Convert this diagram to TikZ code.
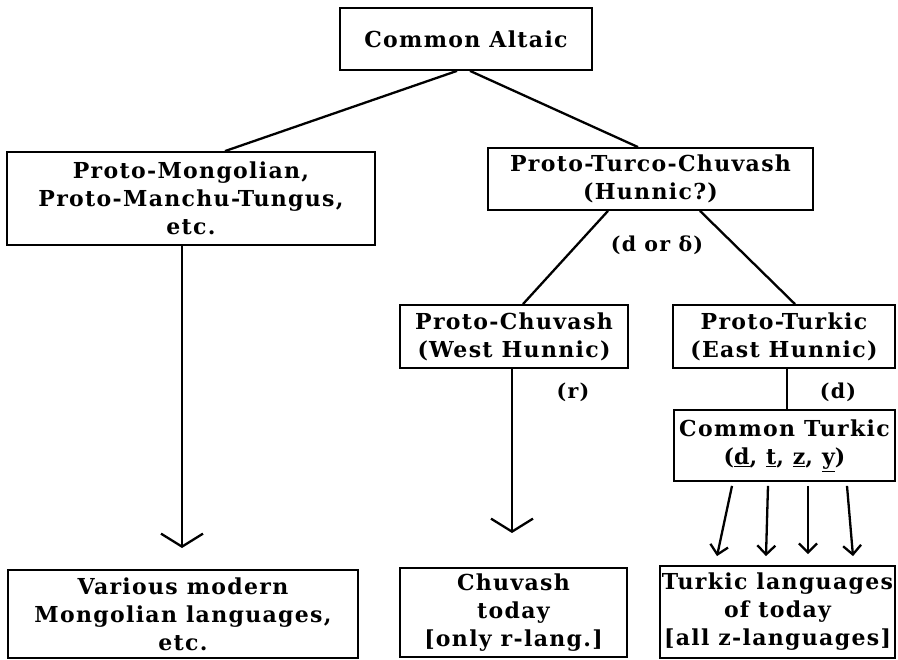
\documentclass[tikz,border=0pt]{standalone}
\usepackage{fontspec}
\newfontfamily\labfont{DejaVu Serif}[LetterSpace=6]
\usetikzlibrary{arrows.meta}
\tikzset{
  lang/.style={draw, line width=1.8pt, inner sep=0pt, align=center,
    font=\labfont\bfseries\fontsize{22}{28}\selectfont},
  conn/.style={line width=2.3pt},
  bigarrow/.style={conn, -{Straight Barb[length=13pt,width=42pt,line width=2.3pt]}},
  smallarrow/.style={conn, -{Straight Barb[length=9pt,width=18pt,line width=2.3pt]}},
  note/.style={inner sep=0pt, font=\labfont\bfseries\fontsize{20.5}{24}\selectfont}
}
\begin{document}
\begin{tikzpicture}[x=1pt,y=-1pt]
\useasboundingbox (0,0) rectangle (898,660);
\node[lang, minimum width=252pt, minimum height=62pt] (altaic) at (466,39) {Common Altaic};
\node[lang, minimum width=368pt, minimum height=93pt] (mong) at (191,198.5) {Proto-Mongolian,\\Proto-Manchu-Tungus,\\etc.};
\node[lang, minimum width=325pt, minimum height=62pt] (ptc) at (650.5,179) {Proto-Turco-Chuvash\\(Hunnic?)};
\node[lang, minimum width=228pt, minimum height=63pt] (pchuv) at (514,336.5) {Proto-Chuvash\\(West Hunnic)};
\node[lang, minimum width=222pt, minimum height=63pt] (pturk) at (784,336.5) {Proto-Turkic\\(East Hunnic)};
\node[lang, minimum width=221pt, minimum height=71pt] (cturk) at (784.5,445.5) {Common Turkic\\(\underline{d}, \underline{t}, \underline{z}, \underline{y})};
\node[lang, minimum width=350pt, minimum height=88pt] (various) at (183,614) {Various modern\\Mongolian languages,\\etc.};
\node[lang, minimum width=227pt, minimum height=89pt] (chuv) at (513.5,612.5) {Chuvash\\today\\{[}only r-lang.{]}};
\node[lang, minimum width=235pt, minimum height=92pt] (turkl) at (777.5,612) {Turkic languages\\of today\\{[}all z-languages{]}};
\node[note] (dor) at (657,245) {(d or δ)};
\node[note] (rlab) at (573,392) {(r)};
\node[note] (dlab) at (838,392) {(d)};
\coordinate (tipm) at (182,548);
\coordinate (tipc) at (512,533);
\draw[conn] ([xshift=-9pt]altaic.south) -- ([xshift=34pt]mong.north);
\draw[conn] ([xshift=4pt]altaic.south) -- ([xshift=-12.5pt]ptc.north);
\draw[conn] ([xshift=-42.5pt]ptc.south) -- ([xshift=9pt]pchuv.north);
\draw[conn] ([xshift=49.5pt]ptc.south) -- ([xshift=11pt]pturk.north);
\draw[bigarrow] ([xshift=-9pt]mong.south) -- (tipm);
\draw[bigarrow] ([xshift=-2pt]pchuv.south) -- (tipc);
\draw[conn] ([xshift=3pt]pturk.south) -- ([xshift=2.5pt]cturk.north);
\draw[smallarrow] ([xshift=-52.5pt,yshift=-4pt]cturk.south) -- ([xshift=-60.5pt,yshift=9pt]turkl.north);
\draw[smallarrow] ([xshift=-16.5pt,yshift=-4pt]cturk.south) -- ([xshift=-11.5pt,yshift=9pt]turkl.north);
\draw[smallarrow] ([xshift=23.5pt,yshift=-4pt]cturk.south) -- ([xshift=30.5pt,yshift=11pt]turkl.north);
\draw[smallarrow] ([xshift=62.5pt,yshift=-4pt]cturk.south) -- ([xshift=75.5pt,yshift=9pt]turkl.north);
\end{tikzpicture}
\end{document}
